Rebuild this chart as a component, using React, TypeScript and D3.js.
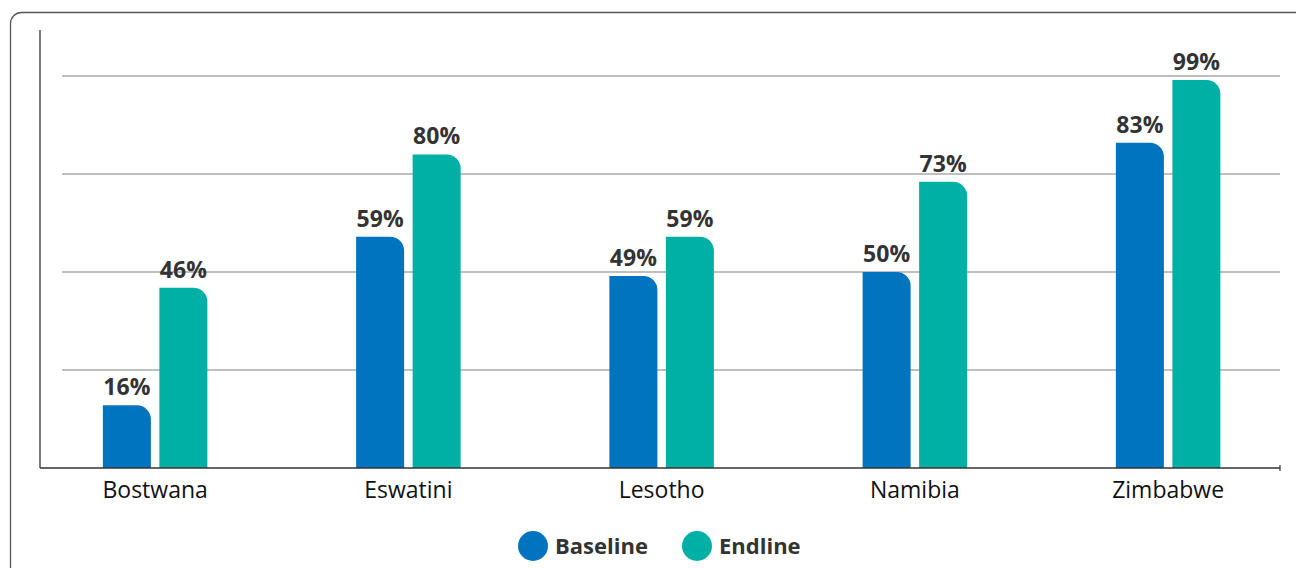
import React from "react";
import * as d3 from "d3";

const countries = ["Bostwana", "Eswatini", "Lesotho", "Namibia", "Zimbabwe"];
const baseline = [16, 59, 49, 50, 83];
const endline = [46, 80, 59, 73, 99];
const gridTicks = [25, 50, 75, 100];
const seriesNames = ["Baseline", "Endline"];
const seriesColors = ["#0174BF", "#00B0A5"];

const W = 1296;
const H = 568;
const axisX = 40;
const axisTop = 30;
const axisY = 468;
const axisRight = 1280;
const gridLeft = 62;

const x = d3.scaleBand<string>().domain(countries).range([28.5, 1294.75]).padding(0);
const y = d3.scaleLinear().domain([0, 100]).range([axisY, 76]);

const barW = 48;
const gap = 8.5;
const radius = 14;

// Bar with only the top-right corner rounded
function barPath(x0: number, w: number, top: number, bottom: number): string {
  const r = Math.min(radius, w / 2, bottom - top);
  const p = d3.path();
  p.moveTo(x0, bottom);
  p.lineTo(x0, top);
  p.lineTo(x0 + w - r, top);
  p.arcTo(x0 + w, top, x0 + w, top + r, r);
  p.lineTo(x0 + w, bottom);
  p.closePath();
  return p.toString();
}

export default function App() {
  const font = "'Open Sans', 'Noto Sans', sans-serif";
  const series = [baseline, endline];
  return (
    <svg
      width={W}
      height={H}
      style={{ position: "absolute", left: 0, top: 0, background: "#fff" }}
      fontFamily={font}
    >
      <rect x={10.5} y={12.5} width={1400} height={700} rx={11} ry={11} fill="#fff" stroke="#555" strokeWidth={1.3} />

      {gridTicks.map((t) => (
        <line key={t} x1={gridLeft} x2={axisRight} y1={y(t)} y2={y(t)} stroke="#808080" strokeWidth={1.2} />
      ))}

      {countries.map((c, i) => {
        const cx = (x(c) ?? 0) + x.bandwidth() / 2;
        return (
          <g key={c}>
            {series.map((vals, s) => {
              const x0 = s === 0 ? cx - gap / 2 - barW : cx + gap / 2;
              const v = vals[i];
              return (
                <g key={s}>
                  <path d={barPath(x0, barW, y(v), axisY)} fill={seriesColors[s]} />
                  <text
                    x={x0 + barW / 2}
                    y={y(v) - 10}
                    textAnchor="middle"
                    fontSize={23}
                    fontWeight={700}
                    fill="#333"
                  >
                    {v}%
                  </text>
                </g>
              );
            })}
            <text x={cx} y={498} textAnchor="middle" fontSize={23} fill="#111">
              {c}
            </text>
          </g>
        );
      })}

      <line x1={axisX} x2={axisX} y1={axisTop} y2={axisY} stroke="#333" strokeWidth={1.3} />
      <line x1={axisX} x2={axisRight} y1={axisY} y2={axisY} stroke="#333" strokeWidth={1.3} />
      <line x1={axisRight} x2={axisRight} y1={axisY - 3} y2={axisY + 3} stroke="#333" strokeWidth={1.2} />

      {seriesNames.map((n, s) => {
        const lx = s === 0 ? 533 : 697;
        return (
          <g key={n}>
            <circle cx={lx} cy={546} r={15} fill={seriesColors[s]} />
            <text x={lx + 22} y={554} fontSize={22} fontWeight={700} fill="#333">
              {n}
            </text>
          </g>
        );
      })}
    </svg>
  );
}
